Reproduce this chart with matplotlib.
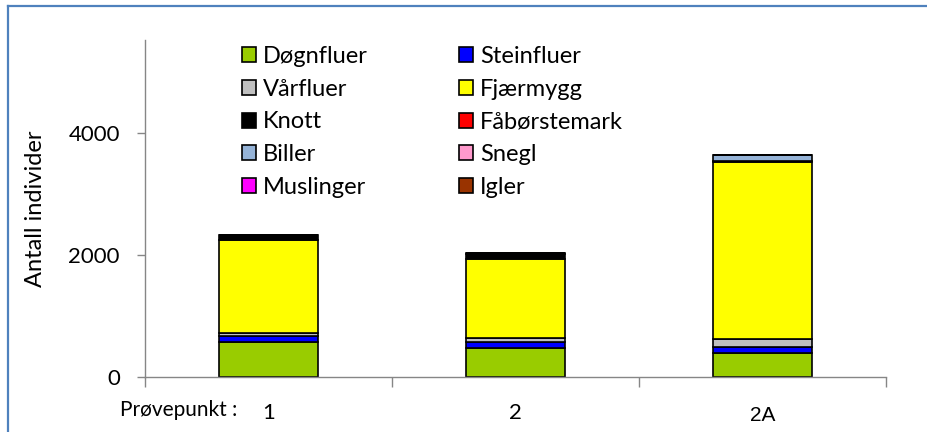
import numpy as np
import matplotlib.pyplot as plt
import matplotlib as mpl
from matplotlib.lines import Line2D

mpl.rcParams['font.family'] = ['Lato', 'DejaVu Sans']

# data
points = ['1', '2', '2A']
series = ['Døgnfluer', 'Steinfluer', 'Vårfluer', 'Fjærmygg', 'Knott',
          'Fåbørstemark', 'Biller', 'Snegl', 'Muslinger', 'Igler']
dognfluer = [570, 480, 390]
steinfluer = [95, 90, 110]
varfluer = [60, 70, 120]
fjaermygg = [1520, 1300, 2900]
knott = [80, 80, 20]
fabstemark = [0, 0, 0]
biller = [10, 5, 100]
snegl = [0, 0, 0]
muslinger = [0, 0, 0]
igler = [0, 0, 0]
values = [dognfluer, steinfluer, varfluer, fjaermygg, knott,
          fabstemark, biller, snegl, muslinger, igler]
colors = ['#99CC00', '#0000FF', '#C0C0C0', '#FFFF00', '#000000',
          '#FF0000', '#95B3D7', '#FF99CC', '#FF00FF', '#993300']

fig = plt.figure(figsize=(9.28, 4.32), dpi=100)
ax = fig.add_axes([145/928, 1 - 377/432, (886 - 145)/928, (377 - 40)/432])

x = np.arange(len(points))
bottom = np.zeros(len(points))
handles = []
for name, vals, col in zip(series, values, colors):
    vals = np.array(vals, dtype=float)
    bars = ax.bar(x, vals, width=0.4, bottom=bottom, color=col,
                  edgecolor='black', linewidth=1.2, label=name)
    handles.append(bars)
    bottom += vals

ax.set_xlim(-0.5, 2.5)
ax.set_ylim(0, 5525)
ax.set_yticks([0, 2000, 4000])
ax.tick_params(axis='y', direction='out', length=6, width=1, color='#868686',
               labelsize=16, pad=12)
ax.set_xticks(x)
ax.set_xticklabels(points)
ax.set_xticks([-0.5, 0.5, 1.5, 2.5], minor=True)
ax.tick_params(axis='x', which='major', length=0, labelsize=16, pad=19)
ax.tick_params(axis='x', which='minor', direction='out', length=7, width=1,
               color='#868686')
labs = ax.get_xticklabels()
labs[2].set_family('Liberation Sans')
labs[2].set_fontsize(15)
labs[2].set_y(-0.008)
for s in ['top', 'right']:
    ax.spines[s].set_visible(False)
for s in ['left', 'bottom']:
    ax.spines[s].set_color('#868686')
    ax.spines[s].set_linewidth(1)

ax.set_ylabel('Antall individer', fontsize=17, labelpad=16)

# legend filled row by row like the original
order = [0, 2, 4, 6, 8, 1, 3, 5, 7, 9]
leg = ax.legend([handles[i] for i in order], [series[i] for i in order],
                ncol=2, frameon=False, fontsize=17,
                loc='upper left', bbox_to_anchor=(0.102, 1.046),
                handlelength=0.6, handleheight=0.6, handletextpad=0.3,
                labelspacing=0.5, columnspacing=3.85)

fig.text(120/928, 1 - 410/432, 'Prøvepunkt :', fontsize=15, va='center')

# blue frame around the chart area
fig.add_artist(Line2D([7.5/928, 7.5/928], [0, 1 - 5.5/432],
                      transform=fig.transFigure, color='#4F81BD', lw=1.6))
fig.add_artist(Line2D([7.5/928, 1], [1 - 5.5/432, 1 - 5.5/432],
                      transform=fig.transFigure, color='#4F81BD', lw=1.6))

fig.savefig('out.png', dpi=100)
